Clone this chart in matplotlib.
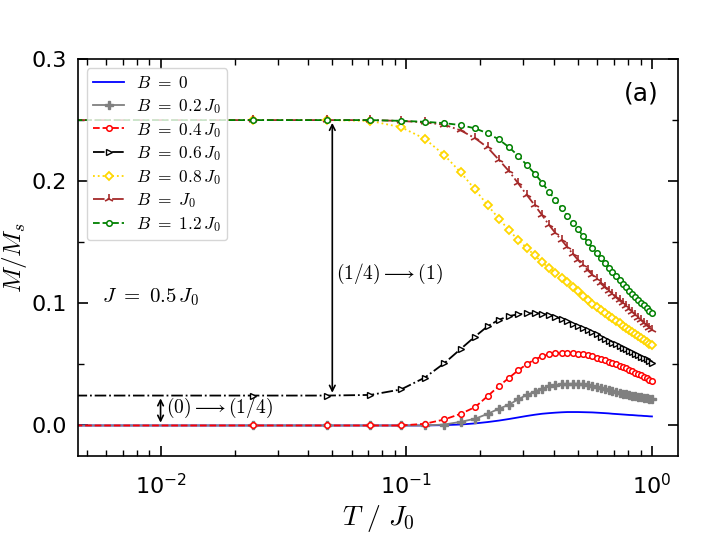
import numpy as np
import matplotlib
matplotlib.use("Agg")
import matplotlib.pyplot as plt
from matplotlib.ticker import MultipleLocator

plt.rcParams['mathtext.fontset'] = 'cm'

# temperature grid T / J0 (first point sits left of the visible range)
T = [0.001, 0.0238, 0.0476, 0.0714, 0.0952, 0.1190, 0.1429, 0.1667, 0.1905, 0.2143,
     0.2381, 0.2619, 0.2857, 0.3095, 0.3333, 0.3571, 0.3810, 0.4048, 0.4286, 0.4524,
     0.4762, 0.5000, 0.5238, 0.5476, 0.5714, 0.5952, 0.6190, 0.6429, 0.6667, 0.6905,
     0.7143, 0.7381, 0.7619, 0.7857, 0.8095, 0.8333, 0.8571, 0.8810, 0.9048, 0.9286,
     0.9524, 0.9762, 1.0000]

m_b00 = [0, 0, 0, 0, 0, 0, 0.0003, 0.0008, 0.0017, 0.0028,
         0.0040, 0.0053, 0.0066, 0.0078, 0.0088, 0.0096, 0.0101, 0.0105, 0.0108, 0.0110,
         0.0110, 0.0110, 0.0109, 0.0108, 0.0107, 0.0105, 0.0103, 0.0101, 0.0099, 0.0096,
         0.0094, 0.0092, 0.0090, 0.0088, 0.0086, 0.0085, 0.0083, 0.0081, 0.0080, 0.0078,
         0.0077, 0.0075, 0.0074]
m_b02 = [0, 0, 0, 0, 0, 0, 0.0008, 0.0030, 0.0055, 0.0095,
         0.0137, 0.0170, 0.0215, 0.0250, 0.0278, 0.0302, 0.0320, 0.0331, 0.0337, 0.0340,
         0.0342, 0.0342, 0.0339, 0.0334, 0.0327, 0.0319, 0.0309, 0.0299, 0.0290, 0.0281,
         0.0273, 0.0267, 0.0260, 0.0254, 0.0249, 0.0245, 0.0241, 0.0236, 0.0231, 0.0227,
         0.0223, 0.0219, 0.0216]
m_b04 = [0, 0, 0, 0, 0, 0.0014, 0.0049, 0.0096, 0.0150, 0.0240,
         0.0322, 0.0390, 0.0452, 0.0502, 0.0540, 0.0566, 0.0583, 0.0592, 0.0596, 0.0597,
         0.0594, 0.0589, 0.0584, 0.0576, 0.0566, 0.0555, 0.0544, 0.0534, 0.0523, 0.0512,
         0.0501, 0.0490, 0.0479, 0.0467, 0.0455, 0.0443, 0.0432, 0.0421, 0.0410, 0.0397,
         0.0386, 0.0374, 0.0363]
m_b06 = [0.0245, 0.0245, 0.0245, 0.0250, 0.0295, 0.0392, 0.0510, 0.0627, 0.0728, 0.0812,
         0.0865, 0.0896, 0.0910, 0.0917, 0.0919, 0.0915, 0.0905, 0.0890, 0.0872, 0.0853,
         0.0834, 0.0816, 0.0798, 0.0780, 0.0763, 0.0746, 0.0728, 0.0710, 0.0694, 0.0679,
         0.0665, 0.0650, 0.0637, 0.0625, 0.0612, 0.0599, 0.0587, 0.0575, 0.0563, 0.0552,
         0.0541, 0.0527, 0.0513]
m_b08 = [0.25, 0.25, 0.25, 0.2493, 0.2442, 0.2347, 0.2213, 0.2071, 0.1932, 0.1803,
         0.1694, 0.1598, 0.1519, 0.1453, 0.1392, 0.1335, 0.1290, 0.1249, 0.1210, 0.1172,
         0.1135, 0.1098, 0.1062, 0.1029, 0.0998, 0.0970, 0.0945, 0.0921, 0.0898, 0.0877,
         0.0856, 0.0836, 0.0817, 0.0798, 0.0780, 0.0762, 0.0745, 0.0729, 0.0713, 0.0698,
         0.0683, 0.0669, 0.0656]
m_b10 = [0.25, 0.25, 0.25, 0.25, 0.2493, 0.2481, 0.2462, 0.2415, 0.2352, 0.2276,
         0.2175, 0.2082, 0.1981, 0.1887, 0.1803, 0.1722, 0.1642, 0.1575, 0.1518, 0.1460,
         0.1405, 0.1355, 0.1311, 0.1271, 0.1235, 0.1198, 0.1163, 0.1132, 0.1103, 0.1075,
         0.1049, 0.1024, 0.0999, 0.0975, 0.0951, 0.0928, 0.0905, 0.0882, 0.0860, 0.0839,
         0.0819, 0.0801, 0.0784]
m_b12 = [0.25, 0.25, 0.25, 0.25, 0.2494, 0.2486, 0.2475, 0.2459, 0.2432, 0.2392,
         0.2342, 0.2278, 0.2207, 0.2132, 0.2062, 0.1989, 0.1912, 0.1844, 0.1780, 0.1718,
         0.1660, 0.1605, 0.1553, 0.1503, 0.1456, 0.1412, 0.1370, 0.1330, 0.1292, 0.1256,
         0.1221, 0.1189, 0.1159, 0.1130, 0.1103, 0.1077, 0.1052, 0.1028, 0.1005, 0.0983,
         0.0962, 0.0941, 0.0920]

labels = [r'$B\ =\ 0$', r'$B\ =\ 0.2\,J_0$', r'$B\ =\ 0.4\,J_0$', r'$B\ =\ 0.6\,J_0$',
          r'$B\ =\ 0.8\,J_0$', r'$B\ =\ J_0$', r'$B\ =\ 1.2\,J_0$']

fig = plt.figure(figsize=(7.17, 5.37), dpi=100)
ax = fig.add_axes([0.1088, 0.1508, 0.8368, 0.7393])

ax.plot(T, m_b00, '-', color='blue', lw=1.3, label=labels[0])
ax.plot(T, m_b02, '-', color='gray', lw=1.3, marker='P', ms=5.5, label=labels[1])
ax.plot(T, m_b04, '--', color='red', lw=1.3, marker='o', ms=4, mfc='white', mew=1.1, label=labels[2])
ax.plot(T, m_b06, '-.', color='black', lw=1.3, marker='>', ms=4.5, mfc='white', mew=1.0, label=labels[3])
ax.plot(T, m_b08, ':', color='gold', lw=1.3, marker='D', ms=4, mfc='white', mew=1.3, label=labels[4])
ax.plot(T, m_b10, '-.', color='brown', lw=1.3, marker='2', ms=7, mew=1.2, label=labels[5])
ax.plot(T, m_b12, '--', color='green', lw=1.3, marker='o', ms=4, mfc='white', mew=1.1, label=labels[6])

ax.set_xscale('log')
ax.set_xlim(10**-2.336, 10**0.106)
ax.set_ylim(-0.025, 0.3)
ax.yaxis.set_major_locator(MultipleLocator(0.1))
ax.yaxis.set_minor_locator(MultipleLocator(0.05))
ax.tick_params(which='both', direction='in', top=True, right=True, labelsize=16)
ax.tick_params(which='major', length=7, width=1.2)
ax.tick_params(which='minor', length=4, width=1.0)
ax.tick_params(axis='x', which='major', pad=12)
ax.tick_params(axis='y', which='major', pad=8)
for s in ax.spines.values():
    s.set_linewidth(1.2)

ax.set_xlabel(r'$T\ /\ J_0$', fontsize=20, labelpad=4)
ax.set_ylabel(r'$M/M_s$', fontsize=18, labelpad=2)

# transition arrows
ax.annotate('', xy=(0.05, 0.25), xytext=(0.05, 0.0245),
            arrowprops=dict(arrowstyle='<->', color='black', lw=1.2))
ax.text(0.0518, 0.124, r'$(1/4)\longrightarrow(1)$', fontsize=14, va='center', ha='left')
ax.annotate('', xy=(0.01, 0.0245), xytext=(0.01, 0.0),
            arrowprops=dict(arrowstyle='<->', color='black', lw=1.2))
ax.text(0.01057, 0.0145, r'$(0)\longrightarrow(1/4)$', fontsize=14, va='center', ha='left')
ax.text(0.0058, 0.105, r'$J\ =\ 0.5\,J_0$', fontsize=15, va='center', ha='left')
ax.text(0.968, 0.914, '(a)', fontsize=18, transform=ax.transAxes, ha='right', va='center')

ax.legend(loc='upper left', fontsize=12.5, bbox_to_anchor=(0.015, 0.977),
          handlelength=1.8, handletextpad=0.7, labelspacing=0.27, borderaxespad=0.0,
          borderpad=0.35)

fig.savefig('out.png', dpi=100)
